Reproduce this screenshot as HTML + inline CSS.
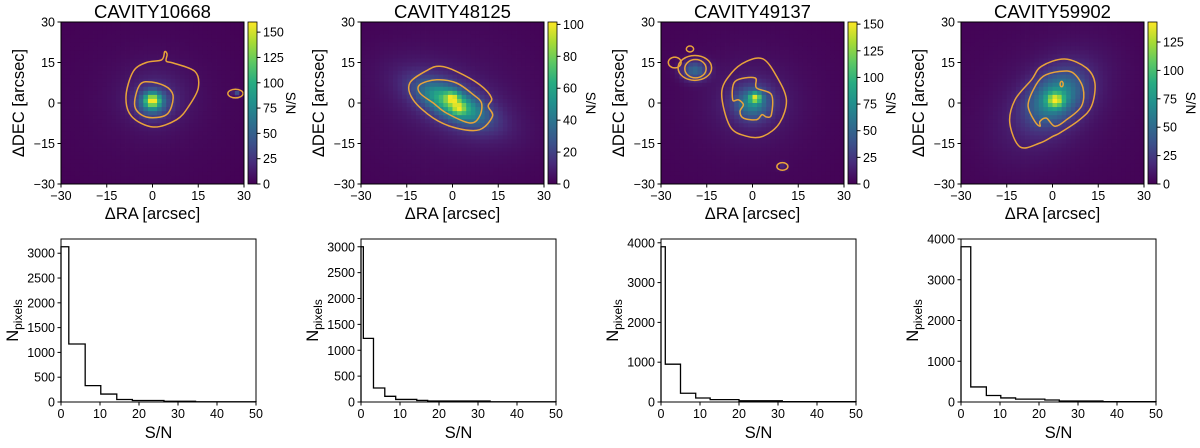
<!DOCTYPE html>
<html><head><meta charset="utf-8"><style>
html,body{margin:0;padding:0;background:#fff;}
svg text{font-family:"Liberation Sans","DejaVu Sans",sans-serif;fill:#000;}
</style></head><body>
<svg id="fig" width="1200" height="443" viewBox="0 0 1200 443" xmlns="http://www.w3.org/2000/svg"></svg>
<script>
// ---------- data ----------
const titles = ["CAVITY10668","CAVITY48125","CAVITY49137","CAVITY59902"];
const cbarMax = [160,101.5,152,142.6];
const cbarTicks = [[0,25,50,75,100,125,150],[0,20,40,60,80,100],[0,25,50,75,100,125,150],[0,25,50,75,100,125]];
const posTicks = [-30,-15,0,15,30];
// emission components: [x, y, sigmaX, sigmaY, angleDeg, amplitude]
const blobs1 = [[0,1,1.8,1.8,0,95],[0,0,3.5,3.5,0,55],[1,2,8,8,0,14],[27.5,3.5,0.8,0.8,0,40],[0,0,22,22,0,5]];
const blobs2 = [[0,2,1.5,1.5,0,35],[2,-2,1.5,1.5,0,30],[0,0,8,3.5,-30,58],[0,0,14,7,-30,14],[0,0,24,22,0,5]];
const blobs3 = [[1,2,1.3,1.3,0,85],[0,0,4,4,0,55],[0,0,9,9,0,13],[-19,12,3,2.5,0,48],[10,-23.5,1,1,0,15],[0,0,24,24,0,5]];
const blobs4 = [[1,1,1.8,1.8,0,70],[1,2,5,7,-40,60],[0,0,9,15,-40,15],[0,0,24,24,0,5]];
const allBlobs = [blobs1,blobs2,blobs3,blobs4];
// contours (arcsec coordinates)
const outer1 = [[4,19],[3,16],[-2,15],[-6.3,11.7],[-8.7,2.5],[-6.9,-4.9],[0.2,-8.9],[7.9,-6.2],[12,-1],[15,5.6],[13.9,11.7],[6.8,14.8],[4.5,15.5],[4.8,18]];
const inner1 = [[-4.1,6.8],[-5.8,-1.2],[-2,-5.2],[4.6,-4.3],[6.8,1.9],[5.1,5.6],[0.2,7.7]];
const outer2 = [[-14,7.4],[-8,12.3],[-4.1,13.6],[1.3,11.7],[8.9,6.8],[12.8,1.9],[11.7,-1.2],[13.1,-4.9],[8.9,-9.9],[1.3,-9.3],[-6.3,-5.6],[-12.9,1.2]];
const inner2 = [[-10.7,6.8],[-5.2,8.6],[1.3,7.4],[6.8,3.1],[9.5,0],[8.9,-4.9],[5.7,-7.4],[-2,-3.7],[-6.3,0],[-10.7,3.7]];
const outer3 = [[-10.1,3.7],[-6.9,11.1],[-2,15.4],[3.5,16.3],[7.9,9.9],[11.1,1.2],[8.9,-7.4],[3.5,-12.3],[-2,-12.3],[-7.4,-8.6]];
const inner3 = [[-5.7,8],[0.8,9.3],[1.3,5.6],[6.2,3.1],[6.2,-4.3],[4.6,-5.2],[3.1,-4.3],[1.3,-6.2],[-3,-5.6],[-4.1,-3.1],[-3,-0.6],[-4.6,1.2],[-6.5,1.2]];
const outer4 = [[-14,-7.4],[-12.3,1.2],[-6.9,8.6],[-3.6,13.6],[4,16.3],[11.1,13],[13.9,7.4],[12.8,-1.2],[8.9,-6.2],[2.4,-11.1],[0.2,-12.3],[-4.1,-14.8],[-10.6,-16.3]];
const inner4 = [[-8,-1.2],[-6.3,4.9],[-3,9.9],[2.4,11.7],[6.8,11.1],[10,5.6],[9.5,-1.2],[4.6,-6.2],[0.8,-8.6],[-2,-5.6],[-4.1,-6.8],[-4.1,-8.6],[-5.8,-6.8]];
const polys = [[outer1,inner1],[outer2,inner2],[outer3,inner3],[outer4,inner4]];
// small contour ellipses: [x, y, rx, ry]
const ell = [[[27.2,3.5,2.5,1.6]],[],[[-18.9,13,5.5,4.6],[-18.7,12.7,3.5,3.4],[-25.5,15,2.1,2],[-20.5,20,1.2,1.1],[9.8,-23.5,1.8,1.4]],[[3,7,0.5,1]]];
// histograms
const histEdges = [[0,2,6.2,10.2,14.3,18.3,26.4,34.5,50],[0,0.6,3.2,6.1,8.9,14.3,17.1,33.1,50],[0,1.1,5,8.9,12.6,20,31.1,50],[0,2.5,6.5,10.2,14,21.5,25.2,36.4,50]];
const histCounts = [[3130,1170,330,160,50,30,15,5],[3000,1230,270,110,50,30,20,5],[3900,950,220,100,60,30,10],[3810,370,160,100,70,50,25,10]];
const histYMax = [3287,3150,4095,4000];
const histYTicks = [[0,500,1000,1500,2000,2500,3000],[0,500,1000,1500,2000,2500,3000],[0,1000,2000,3000,4000],[0,1000,2000,3000,4000]];
const histXTicks = [0,10,20,30,40,50];

// ---------- helpers ----------
const NS="http://www.w3.org/2000/svg";
const svg=document.getElementById('fig');
function mk(tag,attrs,parent){const e=document.createElementNS(NS,tag);for(const k in attrs)e.setAttribute(k,attrs[k]);(parent||svg).appendChild(e);return e;}
const vstops=[[0,68,1,84],[0.13,71,44,122],[0.25,59,81,139],[0.38,44,113,142],[0.5,33,144,141],[0.63,39,173,129],[0.75,92,200,99],[0.88,170,220,50],[1,253,231,37]];
function viridis(t){t=Math.max(0,Math.min(1,t));for(let i=1;i<vstops.length;i++){if(t<=vstops[i][0]){const a=vstops[i-1],b=vstops[i];const f=(t-a[0])/(b[0]-a[0]);return `rgb(${Math.round(a[1]+f*(b[1]-a[1]))},${Math.round(a[2]+f*(b[2]-a[2]))},${Math.round(a[3]+f*(b[3]-a[3]))})`;}}return 'rgb(253,231,37)';}
function model(bl,x,y){let v=0;for(const b of bl){const a=b[4]*Math.PI/180;const dx=x-b[0],dy=y-b[1];const u=dx*Math.cos(a)+dy*Math.sin(a),w=-dx*Math.sin(a)+dy*Math.cos(a);v+=b[5]*Math.exp(-0.5*(u*u/(b[2]*b[2])+w*w/(b[3]*b[3])));}return v;}
function smoothPath(pts){const n=pts.length;let d=`M${pts[0][0].toFixed(1)},${pts[0][1].toFixed(1)}`;
  for(let i=0;i<n;i++){const p0=pts[(i-1+n)%n],p1=pts[i],p2=pts[(i+1)%n],p3=pts[(i+2)%n];
    const c1=[p1[0]+(p2[0]-p0[0])/6,p1[1]+(p2[1]-p0[1])/6],c2=[p2[0]-(p3[0]-p1[0])/6,p2[1]-(p3[1]-p1[1])/6];
    d+=`C${c1[0].toFixed(1)},${c1[1].toFixed(1)} ${c2[0].toFixed(1)},${c2[1].toFixed(1)} ${p2[0].toFixed(1)},${p2[1].toFixed(1)}`;}
  return d+'Z';}

const IMX=61,IMY=22,IMW=183,IMH=162;
const HX=61,HY=239,HW=195,HH=163;
const TF=12.5, LF=16.5;
for(let p=0;p<4;p++){
  const ox=300*p;
  const g=mk('g',{});
  
  
  const sx=v=>ox+IMX+(v+30)/60*IMW, sy=v=>IMY+(30-v)/60*IMH;
  const t=mk('text',{x:ox+IMX+IMW/2,y:18,'text-anchor':'middle','font-size':18.5},g);t.textContent=titles[p];
  
  const N=40,cs=60/N;
  const cells=mk('g',{},g);
  for(let i=0;i<N;i++)for(let j=0;j<N;j++){
    const x0=-30+i*cs,y0=30-j*cs;const v=model(allBlobs[p],x0+cs/2,y0-cs/2);
    mk('rect',{x:sx(x0),y:sy(y0),width:IMW/N+0.4,height:IMH/N+0.4,fill:viridis(v/cbarMax[p])},cells);
  }
  for(const poly of polys[p]){
    const d=smoothPath(poly.map(q=>[sx(q[0]),sy(q[1])]));
    const c=mk('path',{d:d,fill:'none',stroke:'#e8a33a','stroke-width':1.5,'stroke-linejoin':'round'},g);
    
  }
  for(const e of ell[p]){
    const c=mk('ellipse',{cx:sx(e[0]),cy:sy(e[1]),rx:e[2]/60*IMW,ry:e[3]/60*IMH,fill:'none',stroke:'#e8a33a','stroke-width':1.5},g);
    
  }
  mk('rect',{x:ox+IMX,y:IMY,width:IMW,height:IMH,fill:'none',stroke:'#000','stroke-width':1},g);
  for(const v of posTicks){
    mk('line',{x1:sx(v),x2:sx(v),y1:IMY+IMH,y2:IMY+IMH+3.5,stroke:'#000'},g);
    const tx=mk('text',{x:sx(v),y:IMY+IMH+16,'text-anchor':'middle','font-size':TF},g);tx.textContent=(v<0?'\u2212':'')+Math.abs(v);
    mk('line',{x1:ox+IMX-3.5,x2:ox+IMX,y1:sy(v),y2:sy(v),stroke:'#000'},g);
    const ty=mk('text',{x:ox+IMX-6,y:sy(v)+4.5,'text-anchor':'end','font-size':TF},g);ty.textContent=(v<0?'\u2212':'')+Math.abs(v);
  }
  const xl=mk('text',{x:ox+IMX+IMW/2,y:219,'text-anchor':'middle','font-size':LF},g);xl.textContent='\u0394RA [arcsec]';
  
  const yl=mk('text',{x:0,y:0,'text-anchor':'middle','font-size':LF,transform:`translate(${ox+24},${IMY+IMH/2}) rotate(-90)`},g);yl.textContent='\u0394DEC [arcsec]';
  
  const CX=ox+248,CW=9;
  const gid='cb'+p;const lg=mk('linearGradient',{id:gid,x1:0,y1:1,x2:0,y2:0},g);
  for(let k=0;k<=8;k++)mk('stop',{offset:k/8,'stop-color':viridis(k/8)},lg);
  const cb=mk('rect',{x:CX,y:IMY,width:CW,height:IMH,fill:`url(#${gid})`,stroke:'#000','stroke-width':0.8},g);
  
  for(const v of cbarTicks[p]){const y=IMY+IMH-v/cbarMax[p]*IMH;
    mk('line',{x1:CX+CW,x2:CX+CW+3.5,y1:y,y2:y,stroke:'#000'},g);
    const tt=mk('text',{x:CX+CW+6,y:y+4.5,'font-size':TF},g);tt.textContent=v;}
  const cl=mk('text',{x:0,y:0,'text-anchor':'middle','font-size':13.5,transform:`translate(${CX+38},${IMY+IMH/2}) rotate(90)`},g);cl.textContent='S/N';
  

  const h=mk('g',{});
  const hx=v=>ox+HX+v/50*HW, hy=v=>HY+HH-v/histYMax[p]*HH;
  const E=histEdges[p],C=histCounts[p];
  let d=`M${hx(E[0])},${hy(0)}`;
  for(let k=0;k<C.length;k++){d+=`L${hx(E[k])},${hy(C[k])}L${hx(E[k+1])},${hy(C[k])}`;}
  d+=`L${hx(E[E.length-1])},${hy(0)}`;
  const hp=mk('path',{d:d,fill:'none',stroke:'#000','stroke-width':1.3},h);
  
  mk('rect',{x:ox+HX,y:HY,width:HW,height:HH,fill:'none',stroke:'#000','stroke-width':1},h);
  for(const v of histXTicks){mk('line',{x1:hx(v),x2:hx(v),y1:HY+HH,y2:HY+HH+3.5,stroke:'#000'},h);
    const tx=mk('text',{x:hx(v),y:HY+HH+16,'text-anchor':'middle','font-size':TF},h);tx.textContent=v;}
  for(const v of histYTicks[p]){mk('line',{x1:ox+HX-3.5,x2:ox+HX,y1:hy(v),y2:hy(v),stroke:'#000'},h);
    const ty=mk('text',{x:ox+HX-6,y:hy(v)+4.5,'text-anchor':'end','font-size':TF},h);ty.textContent=v;}
  const hxl=mk('text',{x:ox+HX+HW/2,y:438,'text-anchor':'middle','font-size':LF},h);hxl.textContent='S/N';
  
  const hyl=mk('text',{x:0,y:0,'text-anchor':'middle','font-size':LF,transform:`translate(${ox+18},${HY+HH/2}) rotate(-90)`},h);
  hyl.innerHTML='N<tspan font-size="12" dy="4">pixels</tspan>';
  
}
</script>
</body></html>
